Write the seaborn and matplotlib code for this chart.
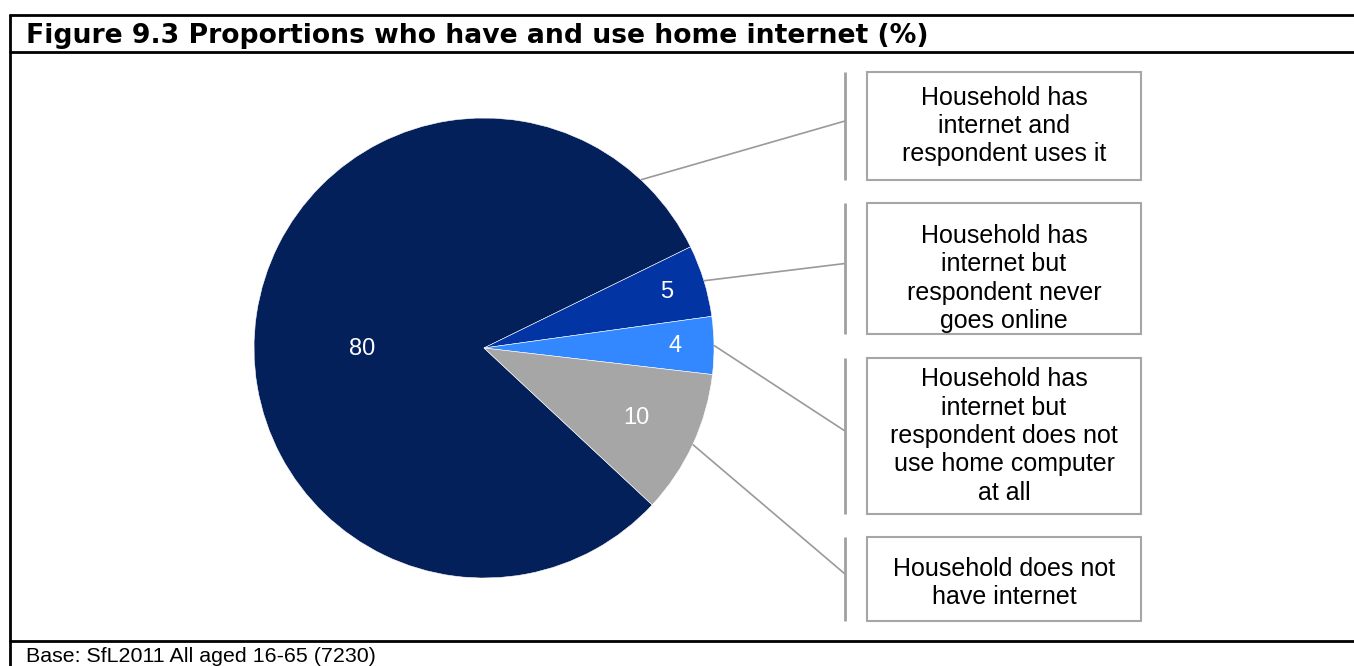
import numpy as np
import matplotlib
matplotlib.use("Agg")
import matplotlib.pyplot as plt
import seaborn as sns

# Data
values = [80, 5, 4, 10]
value_labels = ["80", "5", "4", "10"]
categories = [
    "Household has\ninternet and\nrespondent uses it",
    "Household has\ninternet but\nrespondent never\ngoes online",
    "Household has\ninternet but\nrespondent does not\nuse home computer\nat all",
    "Household does not\nhave internet",
]
title = "Figure 9.3 Proportions who have and use home internet (%)"
footer = "Base: SfL2011 All aged 16-65 (7230)"

# Style
colors = ["#03205B", "#0234A3", "#3388FF", "#A6A6A6"]
label_radius = [0.53, 0.83, 0.83, 0.73]
label_shift = [9, 0, 0, 0]          # degrees added to the wedge middle
leader_angle = [47, None, None, None]  # None -> wedge middle
boxes = [(72, 180), (203, 334), (358, 514), (537, 621)]  # top, bottom in pixels
text_drop = [0, 10, 0, 4]            # text sits a little low in some boxes

sns.set_theme(style="white")
plt.rcParams["font.family"] = ["Liberation Sans", "DejaVu Sans"]

W, H = 1354, 666
fig = plt.figure(figsize=(W / 100, H / 100), dpi=100)
ax = fig.add_axes([0, 0, 1, 1])


def Y(y):
    # image row -> axes y
    return H - y


cx, cy, r = 484, Y(348), 230
wedges, _ = ax.pie(values, colors=colors, startangle=-43, counterclock=False,
                   center=(cx, cy), radius=r, frame=True,
                   wedgeprops=dict(edgecolor="white", linewidth=0.4))

for i, w in enumerate(wedges):
    mid = (w.theta1 + w.theta2) / 2
    a = np.deg2rad(mid + label_shift[i])
    ax.text(cx + label_radius[i] * r * np.cos(a), cy + label_radius[i] * r * np.sin(a),
            value_labels[i], color="white", fontsize=17, ha="center", va="center")

    # leader line to the label box
    la = np.deg2rad(leader_angle[i] if leader_angle[i] is not None else mid)
    top, bot = boxes[i]
    ax.plot([cx + r * np.cos(la), 845], [cy + r * np.sin(la), Y((top + bot) / 2 - 5)],
            color="#9A9A9A", lw=1.2, solid_capstyle="butt")
    ax.plot([845, 845], [Y(top), Y(bot)], color="#A0A0A0", lw=2, solid_capstyle="butt")
    ax.add_patch(plt.Rectangle((867, Y(bot)), 274, bot - top, fill=False,
                               edgecolor="#A6A6A6", lw=1.5))
    ax.text(1004, Y((top + bot) / 2 + text_drop[i]), categories[i], fontsize=18,
            ha="center", va="center", linespacing=1.23, color="black")

# Frame around the figure
ax.plot([10, W], [Y(15), Y(15)], color="black", lw=2)
ax.plot([10, W], [Y(52), Y(52)], color="black", lw=2)
ax.plot([10, W], [Y(641), Y(641)], color="black", lw=2)
ax.plot([10, 10], [Y(15), 0], color="black", lw=2)

ax.text(26, Y(43), title, fontsize=19.2, fontweight="bold", ha="left", va="baseline",
        family=["DejaVu Sans"], color="black")
ax.text(26, Y(647), footer, fontsize=15.4, ha="left", va="top", color="black")

ax.set_xlim(0, W)
ax.set_ylim(0, H)
ax.set_aspect("equal")
ax.axis("off")

fig.savefig("out.png", dpi=100)
